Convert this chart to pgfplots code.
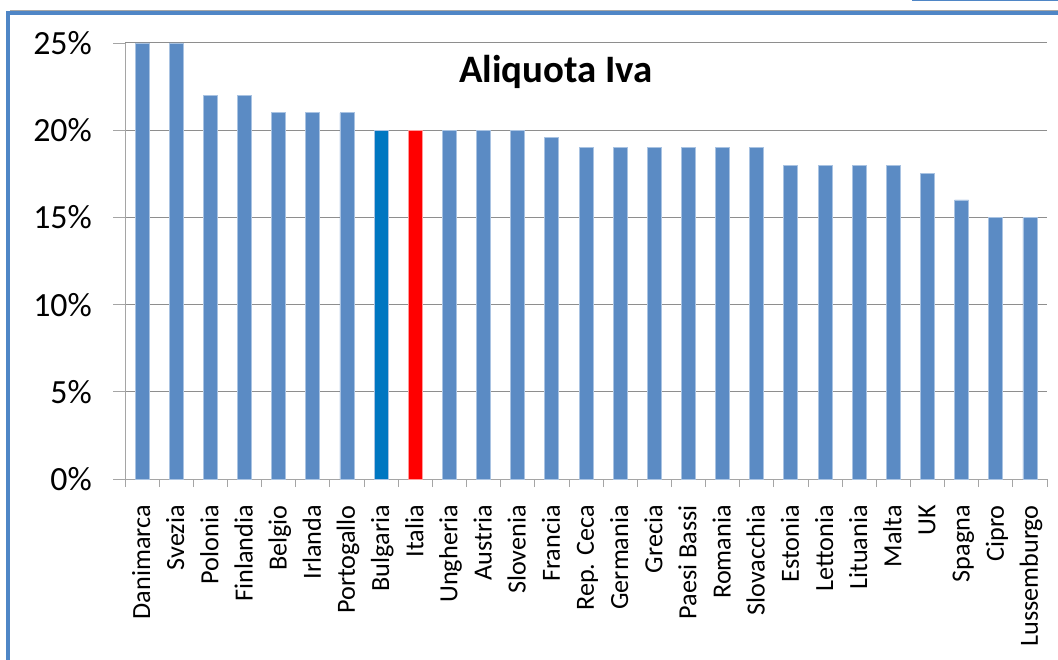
\documentclass[border=0pt]{standalone}
\usepackage{pgfplots}
\pgfplotsset{compat=1.18}
\usepackage{fontspec}
\setmainfont{Carlito}
\definecolor{barblue}{HTML}{5B8BC4}
\definecolor{baredge}{HTML}{A9C3E2}
\definecolor{bulblue}{HTML}{0077C1}
\definecolor{itared}{HTML}{FF0000}
\definecolor{redge}{HTML}{FF9A9A}
\definecolor{frameblue}{HTML}{4F86C6}
\definecolor{gridgray}{HTML}{8E8E8E}
\begin{document}
\begin{tikzpicture}
\useasboundingbox (0bp,0bp) rectangle (1058bp,660bp);
% outer frame
\draw[gray!70, line width=1bp] (10bp,649.5bp) -- (1058bp,649.5bp);
\draw[frameblue, line width=4bp] (8bp,0bp) -- (8bp,647bp) -- (1058bp,647bp);
\draw[frameblue, line width=1.5bp] (912bp,659.3bp) -- (1058bp,659.3bp);
\begin{axis}[
  scale only axis,
  width=922bp, height=436bp,
  at={(125bp,181bp)}, anchor=south west,
  xmin=-0.5, xmax=26.5, ymin=0, ymax=25,
  axis x line*=bottom, axis y line*=left,
  axis line style={draw=gridgray!80, line width=0.8bp, -},
  ybar, bar width=14bp, bar shift=0pt,
  ytick={0,5,10,15,20,25},
  yticklabels={0\%,5\%,10\%,15\%,20\%,25\%},
  ymajorgrids,
  grid style={draw=gridgray, line width=1bp},
  xtick={0,...,26},
  xticklabels={Danimarca,Svezia,Polonia,Finlandia,Belgio,Irlanda,Portogallo,Bulgaria,Italia,Ungheria,Austria,Slovenia,Francia,Rep. Ceca,Germania,Grecia,Paesi Bassi,Romania,Slovacchia,Estonia,Lettonia,Lituania,Malta,UK,Spagna,Cipro,Lussemburgo},
  minor xtick={-0.5,0.5,...,26.5},
  tick align=outside,
  major x tick style={draw=none},
  minor x tick style={draw=gridgray!80, line width=0.8bp},
  major y tick style={draw=gridgray!80, line width=0.8bp},
  major tick length=12bp,
  minor tick length=8bp,
  xticklabel style={font=\fontsize{26.3}{30}\selectfont, rotate=90, anchor=east, inner sep=0pt, text height=0.8em, text depth=0.2em, xshift=-14bp, yshift=-5bp},
  yticklabel style={font=\fontsize{34}{40}\selectfont, anchor=east, inner sep=0pt, xshift=-21bp},
  clip=false,
]
\addplot[fill=barblue, draw=baredge, line width=0.8bp] coordinates {
(0,25) (1,25) (2,22) (3,22) (4,21) (5,21) (6,21)
(9,20) (10,20) (11,20) (12,19.6) (13,19) (14,19) (15,19) (16,19) (17,19) (18,19)
(19,18) (20,18) (21,18) (22,18) (23,17.5) (24,16) (25,15) (26,15)};
\addplot[fill=bulblue, draw=baredge, line width=0.8bp] coordinates {(7,20)};
\addplot[fill=itared, draw=redge, line width=0.8bp] coordinates {(8,20)};
\node[font=\fontsize{39}{44}\selectfont\bfseries, anchor=base] at (axis description cs:0.4675,0.909) {Aliquota Iva};
\end{axis}
\end{tikzpicture}
\end{document}
